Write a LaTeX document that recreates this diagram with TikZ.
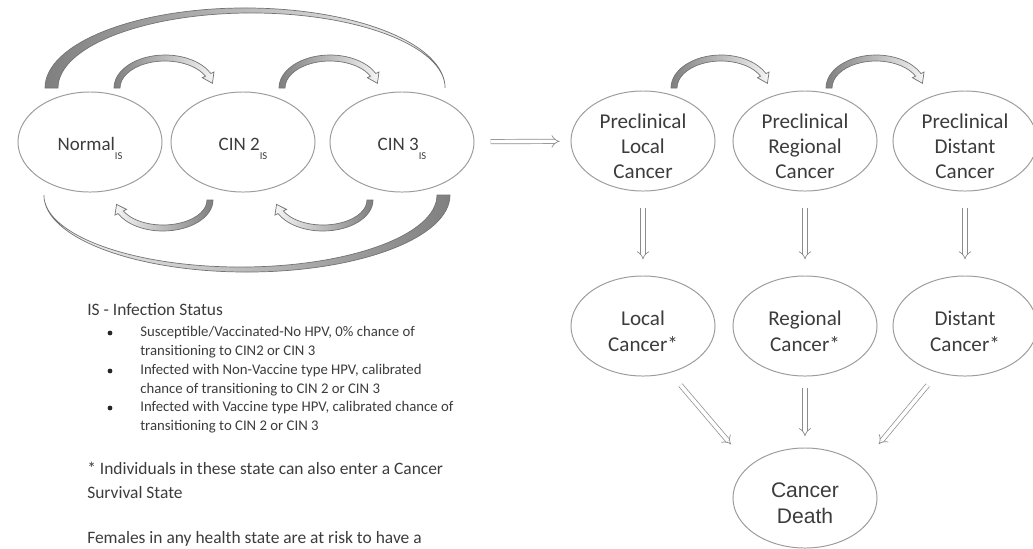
\documentclass[tikz,border=0pt]{standalone}
\usepackage{fontspec}
\setmainfont{Carlito}
\newfontfamily\deathfont{Liberation Sans}
\usetikzlibrary{positioning,calc,shapes.geometric,arrows.meta}

\definecolor{txtgray}{HTML}{3C3C3C}
\definecolor{rimgray}{HTML}{9C9C9C}

\tikzset{
  state/.style={ellipse, draw=rimgray, line width=0.7pt, minimum width=3.6cm, minimum height=2.5cm,
    inner sep=-6pt, align=center, text=txtgray, font=\fontsize{15}{18}\selectfont},
  isstate/.style={state, font=\fontsize{13.5}{16}\selectfont},
  hollow/.style={draw=black!45, line width=0.5pt, double=white, double distance=2.6pt, -{Implies}},
  bandline/.style={draw=black!55, line width=0.5pt},
  darkleft/.style={left color=black!50, right color=black!4},
  darkright/.style={left color=black!4, right color=black!50},
  note/.style={anchor=base west, inner sep=0pt, align=left, text=txtgray, font=\fontsize{12.4}{16.4}\selectfont},
  keyitem/.style={note, font=\fontsize{10.5}{13.3}\selectfont},
}

\newcommand{\IS}{\raisebox{-1ex}{\fontsize{7.5}{8}\selectfont IS}}
% taller first line, so the text sits a little low in its ellipse
\newcommand{\lift}{\rule{0pt}{18pt}}

% band arrow along an elliptic arc: [shading] centre, x radius, y radius, start, end (units of 0.025cm)
\newcommand{\bandarrow}[6][]{%
  \pgfmathsetmacro\rxo{#3+3}\pgfmathsetmacro\ryo{#4+3}%
  \pgfmathsetmacro\rxi{#3-3}\pgfmathsetmacro\ryi{#4-3}%
  \pgfmathsetmacro\rxh{#3+6.5}\pgfmathsetmacro\ryh{#4+6.5}%
  \pgfmathsetmacro\rxk{#3-6.5}\pgfmathsetmacro\ryk{#4-6.5}%
  \pgfmathsetmacro\bandtip{#6-17}%
  \shadedraw[bandline,#1] ($#2+({\rxo*cos(#5)},{\ryo*sin(#5)})$)
      arc[start angle=#5, end angle=#6, x radius=\rxo*0.025cm, y radius=\ryo*0.025cm]
    -- ($#2+({\rxh*cos(#6)},{\ryh*sin(#6)})$)
    -- ($#2+({#3*cos(\bandtip)},{#4*sin(\bandtip)})$)
    -- ($#2+({\rxk*cos(#6)},{\ryk*sin(#6)})$)
    -- ($#2+({\rxi*cos(#6)},{\ryi*sin(#6)})$)
      arc[start angle=#6, end angle=#5, x radius=\rxi*0.025cm, y radius=\ryi*0.025cm]
    -- cycle;}

\begin{document}
\begin{tikzpicture}[x=0.025cm, y=0.025cm]
  \useasboundingbox (0,0) rectangle (1033,-548);

  % infection states
  \node[isstate] (normal) at (90,-142) {\lift Normal\IS};
  \node[isstate] (cin2) at (243,-142) {\lift CIN 2\IS};
  \node[isstate] (cin3) at (402,-142) {\lift CIN 3\IS};

  % cancer states
  \node[state] (plocal) at (643,-141) {\lift Preclinical\\Local\\Cancer};
  \node[state] (pregional) at (805,-141) {\lift Preclinical\\Regional\\Cancer};
  \node[state] (pdistant) at (965,-141) {\lift Preclinical\\Distant\\Cancer};
  \node[state] (local) at (643,-326) {\lift Local\\Cancer*};
  \node[state] (regional) at (805,-326) {\lift Regional\\Cancer*};
  \node[state] (distant) at (965,-326) {\lift Distant\\Cancer*};
  \node[state, font=\deathfont\fontsize{15}{18}\selectfont] (death) at (805,-498) {\lift Cancer\\Death};

  % long arcs round the infection states
  \coordinate (topc) at ($(cin2)+(2,54)$);
  \coordinate (botc) at ($(cin2)+(4,-53)$);
  \shadedraw[bandline, darkleft] ($(topc)+(-200,0)$) arc[start angle=180, end angle=0, x radius=5cm, y radius=2cm]
    arc[start angle=0, end angle=180, x radius=4.8375cm, y radius=1.875cm] -- cycle;
  \shadedraw[bandline, darkright] ($(botc)+(203,0)$) arc[start angle=0, end angle=-180, x radius=5.075cm, y radius=1.925cm]
    arc[start angle=-180, end angle=0, x radius=4.9125cm, y radius=1.8cm] -- cycle;

  % short arcs between neighbours
  \coordinate (nc) at ($(normal)+(75,54)$);
  \coordinate (cc) at ($(cin2)+(87,54)$);
  \coordinate (nb) at ($(normal)+(73,-58)$);
  \coordinate (cb) at ($(cin2)+(80,-58)$);
  \coordinate (lc) at ($(plocal)+(78,53)$);
  \coordinate (rc) at ($(pregional)+(71,53)$);
  \bandarrow[darkleft]{(nc)}{48}{30}{180}{26}
  \bandarrow[darkleft]{(cc)}{48}{30}{180}{26}
  \bandarrow[darkright]{(nb)}{47}{28}{0}{-154}
  \bandarrow[darkright]{(cb)}{47}{28}{0}{-154}
  \bandarrow[darkleft]{(lc)}{47}{30}{180}{26}
  \bandarrow[darkleft]{(rc)}{47}{30}{180}{26}

  % straight transitions
  \draw[hollow, shorten <=0.4cm, shorten >=0.27cm] (cin3) -- (plocal);
  \draw[hollow, shorten <=0.4cm, shorten >=0.4cm] (plocal) -- (local);
  \draw[hollow, shorten <=0.4cm, shorten >=0.4cm] (pregional) -- (regional);
  \draw[hollow, shorten <=0.4cm, shorten >=0.4cm] (pdistant) -- (distant);
  \draw[hollow, shorten <=0.28cm, shorten >=0.28cm] (regional) -- (death);
  \draw[hollow, shorten <=0.4cm, shorten >=0.7cm] (local.-60) -- (death.150);
  \draw[hollow, shorten <=0.4cm, shorten >=0.7cm] (distant.240) -- (death.30);

  % key (multi-line nodes sit on their last baseline)
  \node[note] (istitle) at (87,-315) {IS - Infection Status};
  \node[keyitem] (item1) at (140,-355) {Susceptible/Vaccinated-No HPV, 0\% chance of\\transitioning to CIN2 or CIN 3};
  \node[keyitem] (item2) at (140,-393) {Infected with Non-Vaccine type HPV, calibrated\\chance of transitioning to CIN 2 or CIN 3};
  \node[keyitem] (item3) at (140,-430) {Infected with Vaccine type HPV, calibrated chance of\\transitioning to CIN 2 or CIN 3};
  \fill[black!85] (110,-333) circle[radius=0.06cm];
  \fill[black!85] (110,-371) circle[radius=0.06cm];
  \fill[black!85] (110,-408) circle[radius=0.06cm];
  \node[note] (survival) at (87,-498) {* Individuals in these state can also enter a Cancer\\Survival State};
  \node[note] (females) at (87,-543) {Females in any health state are at risk to have a};
\end{tikzpicture}
\end{document}
